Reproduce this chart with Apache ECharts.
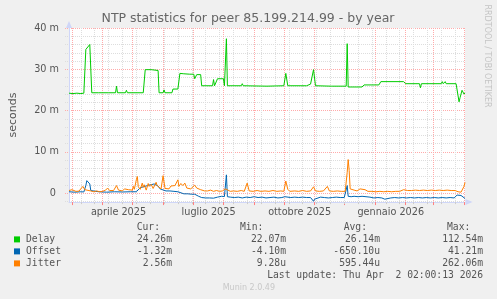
<!DOCTYPE html>
<html><head><meta charset="utf-8">
<script src="https://cdn.jsdelivr.net/npm/echarts@6/dist/echarts.min.js"></script>
<style>html,body{margin:0;padding:0;background:#F0F0F0;}#c{width:497px;height:299px;}</style>
</head><body><div id="c"></div>
<script>
// ---- data ----
const startDate = [2025, 1, 26];          // 26 Feb 2025 (month 0-based)
const dayCount = 401;                      // through 2 Apr 2026
const monthNames = ['gennaio','febbraio','marzo','aprile','maggio','giugno','luglio','agosto','settembre','ottobre','novembre','dicembre'];
const yTickValues = [0, 10, 20, 30, 40];
const seriesNames = ['Delay', 'Offset', 'Jitter'];
const seriesColors = ['#00CC00', '#0066B3', '#FF8000'];
const legendHeaders = ['Cur:', 'Min:', 'Avg:', 'Max:'];
const curVals = ['24.26m', '-1.32m', '2.56m'];
const minVals = ['22.07m', '-4.10m', '9.28u'];
const avgVals = ['26.14m', '-650.10u', '595.44u'];
const maxVals = ['112.54m', '41.21m', '262.06m'];
const lastUpdate = 'Last update: Thu Apr  2 02:00:13 2026';
const titleText = 'NTP statistics for peer 85.199.214.99 - by year';

// [day index from start, milliseconds]
const delay = [[0,24.2],[4,24.1],[8,24.2],[12,24.1],[15,24.2],[17,34.8],[18,34.9],[19,34.4],[21,36.0],[23,24.3],[30,24.3],[40,24.3],[47,24.3],[48,25.9],[49,24.3],[57,24.3],[58,24.9],[59,24.3],[75,24.3],[77,29.9],[83,29.9],[84,29.7],[90,29.7],[91,24.3],[95,24.3],[96,25.0],[97,24.3],[104,24.3],[105,25.2],[110,25.2],[112,29.0],[116,28.9],[118,29.0],[122,28.8],[124,28.9],[126,28.8],[127,27.7],[129,28.7],[133,28.7],[134,26.0],[145,26.0],[146,27.5],[147,26.0],[149,26.0],[150,27.7],[156,27.7],[157,26.0],[158,26.0],[159,37.4],[160,26.0],[174,26.0],[175,26.5],[176,26.0],[200,25.9],[217,26.0],[219,29.0],[221,26.0],[240,26.0],[242,26.4],[244,26.4],[246,26.1],[247,29.9],[248,29.9],[249,26.0],[265,25.9],[280,25.9],[281,36.2],[282,25.7],[296,25.7],[298,26.2],[313,26.2],[315,27.0],[338,27.0],[340,26.5],[354,26.5],[355,25.5],[356,26.5],[376,26.5],[377,27.0],[378,26.5],[379,26.5],[380,27.0],[381,26.5],[391,26.5],[394,22.1],[395,23.1],[397,24.9],[399,24.0],[400,24.26]];
const offset = [[0,0.3],[6,0.2],[12,0.3],[15,0.25],[16,0.5],[17,1.8],[18,3.0],[19,3.4],[20,3.2],[21,2.2],[22,0.6],[23,0.25],[30,0.3],[38,0.2],[46,0.3],[54,0.25],[62,0.3],[68,0.3],[70,0.6],[72,1.3],[74,1.6],[77,1.6],[80,1.9],[83,2.0],[86,2.2],[88,2.0],[90,1.7],[92,1.0],[94,0.6],[98,0.5],[102,0.5],[106,0.4],[110,0.3],[112,0.0],[116,-0.2],[120,-0.2],[124,-0.3],[127,-0.3],[129,-0.6],[131,-0.8],[134,-1.1],[138,-1.2],[142,-1.2],[146,-1.25],[150,-1.0],[154,-0.8],[157,-0.85],[158,-0.8],[159,4.4],[160,-0.9],[163,-1.0],[167,-1.1],[171,-1.0],[175,-1.2],[179,-1.0],[183,-1.1],[187,-0.9],[191,-1.1],[195,-1.0],[199,-1.2],[203,-1.1],[207,-1.0],[211,-1.2],[215,-1.1],[218,-0.9],[220,-1.2],[224,-1.1],[228,-1.0],[232,-1.1],[236,-1.0],[240,-1.1],[244,-1.1],[246,-1.2],[247,-2.0],[248,-1.5],[250,-1.1],[254,-1.0],[258,-1.1],[262,-1.2],[266,-1.1],[270,-1.0],[274,-1.1],[278,-1.1],[280,-0.9],[281,1.8],[282,-0.8],[285,-0.9],[288,-0.8],[292,-0.9],[296,-0.8],[300,-0.9],[304,-1.0],[308,-1.2],[312,-1.1],[316,-1.2],[319,-1.5],[321,-1.1],[325,-1.2],[329,-1.1],[333,-1.2],[337,-1.1],[341,-1.2],[345,-1.1],[349,-1.2],[353,-1.1],[357,-1.2],[361,-1.1],[365,-1.2],[369,-1.1],[373,-1.2],[377,-1.1],[381,-1.2],[385,-1.1],[389,-1.2],[391,-1.1],[392,-0.5],[394,-0.4],[396,-0.6],[398,-0.9],[400,-1.32]];
const jitter = [[0,0.6],[1,0.9],[3,0.8],[5,0.9],[7,0.4],[10,0.45],[12,0.4],[14,1.6],[16,0.8],[18,0.4],[22,0.5],[25,0.3],[28,0.5],[31,0.3],[34,0.4],[37,0.7],[39,1.2],[41,0.6],[43,0.9],[45,0.6],[47,0.8],[48,1.8],[50,0.7],[52,0.9],[54,0.5],[56,1.0],[58,0.6],[60,0.8],[62,0.5],[64,0.7],[65,1.6],[66,0.9],[68,3.2],[69,4.0],[70,1.5],[72,0.9],[74,2.4],[75,1.4],[76,2.0],[78,0.7],[80,2.3],[81,1.6],[83,2.1],[85,1.1],[88,2.6],[89,1.8],[91,2.2],[93,1.0],[95,4.2],[97,1.1],[99,1.4],[101,1.0],[103,1.7],[105,1.3],[107,1.8],[109,1.5],[110,3.2],[111,1.6],[113,2.3],[115,1.8],[117,2.4],[119,1.2],[121,1.5],[123,1.0],[125,1.3],[127,1.9],[129,1.2],[131,1.4],[133,0.8],[135,0.6],[137,0.5],[140,0.5],[143,0.7],[146,0.4],[149,0.6],[152,0.4],[155,0.5],[158,1.0],[160,0.6],[163,0.4],[166,0.5],[170,0.4],[174,0.6],[177,0.4],[180,2.4],[182,0.5],[186,0.4],[190,0.6],[194,0.4],[198,0.5],[202,0.4],[206,0.6],[210,0.4],[214,0.5],[217,0.4],[219,2.9],[221,0.9],[223,0.4],[228,0.5],[232,0.4],[236,0.6],[240,0.4],[244,0.5],[247,1.5],[249,0.5],[253,0.4],[257,0.5],[261,1.6],[263,0.5],[267,0.4],[271,0.5],[275,0.4],[279,0.4],[280,0.5],[281,5.0],[282,8.1],[283,5.5],[284,1.0],[285,0.6],[288,0.7],[291,0.5],[294,1.0],[296,0.6],[299,0.8],[302,0.4],[306,0.4],[310,0.3],[314,0.4],[318,0.3],[322,0.4],[326,0.3],[330,0.4],[334,0.4],[338,0.8],[340,0.9],[342,0.6],[346,0.6],[350,0.7],[354,0.6],[356,1.0],[358,0.7],[362,0.6],[366,0.7],[370,0.6],[374,0.7],[378,0.6],[382,0.7],[386,0.6],[390,0.6],[393,0.3],[396,0.2],[398,0.5],[399,1.6],[400,2.56]];

// ---- categories (one per day) ----
const dates = [];
const t0 = Date.UTC(startDate[0], startDate[1], startDate[2]);
for (let i = 0; i < dayCount; i++) dates.push(new Date(t0 + i * 86400000).toISOString().slice(0, 10));

const isMonthStart = (i, v) => v.slice(8) === '01';
const isMinor = (i, v) => i >= 12 && (i - 12) % 14 === 0;
const isLabelDay = (i, v) => v.slice(8) === '17' && ['01','04','07','10'].indexOf(v.slice(5, 7)) >= 0;

const FONT = '"DejaVu Sans"';
const MONO = '"DejaVu Sans Mono"';
const TXT = '#555';
const AXIS = '#CFD6F8';
const GRID = '#dddddd';
const MGRID = '#ffaaaa';

// ---- graphic texts ----
const graphic = [];
function txt(text, x, y, extra, elemExtra) {
  graphic.push(Object.assign({ type: 'text', x: x, y: y, silent: true,
    style: Object.assign({ text: text, font: '9.7px ' + MONO, fill: TXT,
      align: 'left', verticalAlign: 'middle', textAlign: 'left', textVerticalAlign: 'middle' }, extra) }, elemExtra || {}));
}
txt(titleText, 248, 19, { font: '12.5px ' + FONT, fill: '#666', align: 'center', textAlign: 'center' });
txt('RRDTOOL / TOBI OETIKER', 487, 56, { font: '8px ' + FONT, fill: '#c4c4c4', align: 'center', textAlign: 'center' }, { rotation: -Math.PI / 2 });
const headerX = [136.7, 240, 343.7, 447];
legendHeaders.forEach((h, k) => txt(h, headerX[k], 227.6));
const rowY = [239.4, 251.4, 263.4];
const colRight = [172, 286, 380, 483];
const cols = [curVals, minVals, avgVals, maxVals];
seriesNames.forEach((n, r) => {
  graphic.push({ type: 'rect', silent: true, shape: { x: 14, y: rowY[r] - 3, width: 6, height: 6 }, style: { fill: seriesColors[r] } });
  txt(n, 26, rowY[r]);
  cols.forEach((c, k) => txt(c[r], colRight[k], rowY[r], { align: 'right', textAlign: 'right' }));
});
txt(lastUpdate, 483, 275.5, { align: 'right', textAlign: 'right' });
txt('Munin 2.0.49', 222.7, 287.5, { font: '8px ' + FONT, fill: '#c8c8c8' });

const chart = echarts.init(document.getElementById('c'), null, { renderer: 'canvas' });
const mkSeries = (name, data, color) => ({
  type: 'line', name: name, data: data, xAxisIndex: 0, yAxisIndex: 0,
  symbol: 'none', showSymbol: false, animation: false, silent: true, clip: true,
  lineStyle: { width: 1, color: color }, z: 3
});

chart.setOption({
  backgroundColor: '#F0F0F0',
  animation: false,
  grid: [
    { left: 65, top: 28, width: 400, height: 174.075, show: true, backgroundColor: '#ffffff', borderWidth: 0 },
    { left: 65, top: 28, width: 400, height: 173.25, show: false }
  ],
  xAxis: [
    { type: 'category', gridIndex: 0, data: dates, boundaryGap: false, position: 'bottom',
      axisLine: { show: true, onZero: false, lineStyle: { color: AXIS, width: 1 }, symbol: ['none', 'triangle'], symbolSize: [6, 7], symbolOffset: [0, 4] },
      axisTick: { show: true, interval: isMonthStart, length: 3, lineStyle: { color: '#ff8080' } },
      axisLabel: { show: true, interval: isLabelDay, margin: 5, color: TXT, fontFamily: FONT, fontSize: 9.7,
        formatter: v => monthNames[+v.slice(5, 7) - 1] + ' ' + v.slice(0, 4) },
      splitLine: { show: true, interval: isMonthStart, lineStyle: { color: MGRID, width: 1, type: [1, 1] } } },
    { type: 'category', gridIndex: 0, data: dates, boundaryGap: false, position: 'bottom',
      axisLine: { show: false, onZero: false }, axisLabel: { show: false },
      axisTick: { show: true, interval: isMinor, length: 2, lineStyle: { color: '#cccccc' } },
      splitLine: { show: true, interval: isMinor, lineStyle: { color: GRID, width: 1, type: [1, 1] } } },
    { type: 'value', gridIndex: 1, show: false, min: 0, max: 1 }
  ],
  yAxis: [
    { type: 'value', gridIndex: 0, min: -2.2, max: 40,
      axisLine: { show: true, onZero: false, lineStyle: { color: AXIS, width: 1 }, symbol: ['none', 'triangle'], symbolSize: [6, 7], symbolOffset: [0, 3.5] },
      axisTick: { show: false }, axisLabel: { show: false }, splitLine: { show: false },
      name: 'seconds', nameLocation: 'middle', nameGap: 50, nameRotate: 90,
      nameTextStyle: { color: TXT, fontFamily: FONT, fontSize: 11 } },
    { type: 'value', gridIndex: 1, min: -2, max: 40, interval: 2,
      axisLine: { show: false, onZero: false }, axisTick: { show: false },
      axisLabel: { show: true, margin: 6, color: TXT, fontFamily: FONT, fontSize: 9.7,
        formatter: v => yTickValues.indexOf(v) < 0 ? '' : (v === 0 ? '0 ' : v + ' m') },
      splitLine: { show: true, lineStyle: { color: [GRID, MGRID, GRID, GRID, GRID], width: 1, type: [1, 1] } } }
  ],
  series: [
    mkSeries(seriesNames[0], delay, seriesColors[0]),
    mkSeries(seriesNames[1], offset, seriesColors[1]),
    mkSeries(seriesNames[2], jitter, seriesColors[2])
  ],
  graphic: graphic
});
</script>
</body></html>
